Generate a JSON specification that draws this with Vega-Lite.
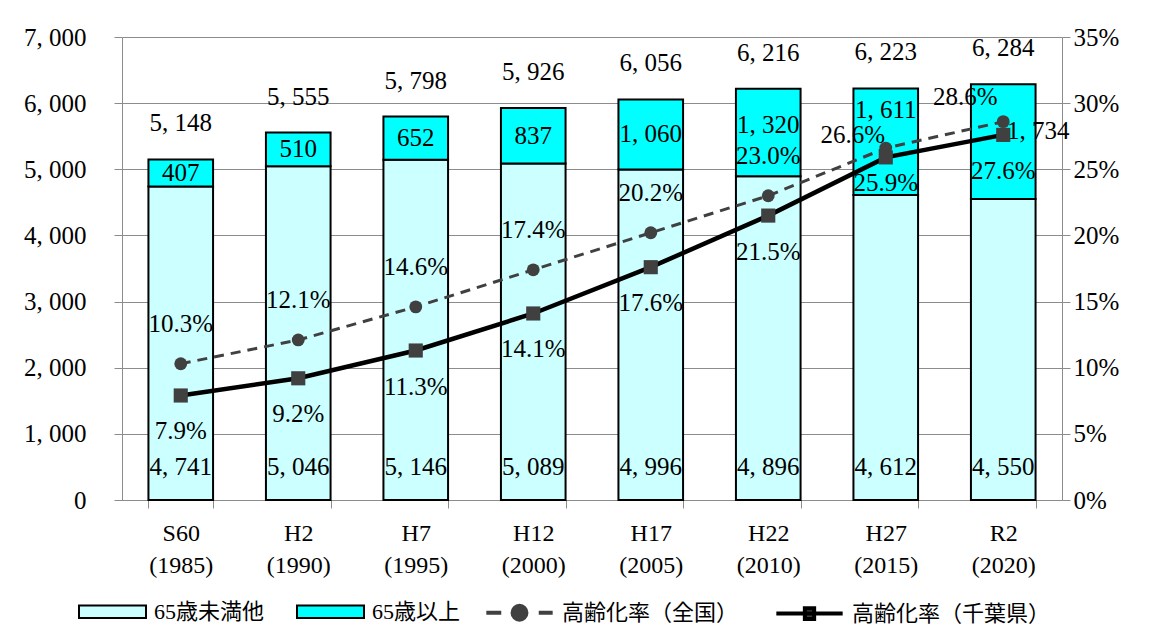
{
  "$schema": "https://vega.github.io/schema/vega-lite/v6.json",
  "width": 940,
  "height": 463,
  "autosize": "none",
  "padding": {"left": 122, "top": 37, "right": 97, "bottom": 144},
  "background": "white",
  "config": {
    "font": "Liberation Serif, Noto Sans CJK JP",
    "view": {"stroke": null},
    "text": {"font": "Liberation Serif, Noto Sans CJK JP", "fontSize": 25, "color": "black"},
    "axis": {
      "labelFont": "Liberation Serif, Noto Sans CJK JP",
      "labelColor": "black",
      "domainColor": "#8c8c8c",
      "tickColor": "#8c8c8c",
      "gridColor": "#8c8c8c",
      "title": null
    },
    "legend": {
      "labelFont": "Liberation Serif, Noto Sans CJK JP",
      "labelFontSize": 22,
      "labelColor": "black",
      "labelOffset": 7,
      "columnPadding": 13,
      "labelLimit": 400,
      "padding": 0,
      "title": null
    }
  },
  "datasets": {
    "pop": [
      {"cat": "S60 (1985)", "series": "65歳未満他", "value": 4741},
      {"cat": "S60 (1985)", "series": "65歳以上", "value": 407},
      {"cat": "H2 (1990)", "series": "65歳未満他", "value": 5046},
      {"cat": "H2 (1990)", "series": "65歳以上", "value": 510},
      {"cat": "H7 (1995)", "series": "65歳未満他", "value": 5146},
      {"cat": "H7 (1995)", "series": "65歳以上", "value": 652},
      {"cat": "H12 (2000)", "series": "65歳未満他", "value": 5089},
      {"cat": "H12 (2000)", "series": "65歳以上", "value": 837},
      {"cat": "H17 (2005)", "series": "65歳未満他", "value": 4996},
      {"cat": "H17 (2005)", "series": "65歳以上", "value": 1060},
      {"cat": "H22 (2010)", "series": "65歳未満他", "value": 4896},
      {"cat": "H22 (2010)", "series": "65歳以上", "value": 1320},
      {"cat": "H27 (2015)", "series": "65歳未満他", "value": 4612},
      {"cat": "H27 (2015)", "series": "65歳以上", "value": 1611},
      {"cat": "R2 (2020)", "series": "65歳未満他", "value": 4550},
      {"cat": "R2 (2020)", "series": "65歳以上", "value": 1734}
    ],
    "rate": [
      {"cat": "S60 (1985)", "total": 5148, "national": 10.3, "chiba": 7.9},
      {"cat": "H2 (1990)", "total": 5555, "national": 12.1, "chiba": 9.2},
      {"cat": "H7 (1995)", "total": 5798, "national": 14.6, "chiba": 11.3},
      {"cat": "H12 (2000)", "total": 5926, "national": 17.4, "chiba": 14.1},
      {"cat": "H17 (2005)", "total": 6056, "national": 20.2, "chiba": 17.6},
      {"cat": "H22 (2010)", "total": 6216, "national": 23.0, "chiba": 21.5},
      {"cat": "H27 (2015)", "total": 6223, "national": 26.6, "chiba": 25.9},
      {"cat": "R2 (2020)", "total": 6284, "national": 28.6, "chiba": 27.6}
    ]
  },
  "layer": [
    {
      "layer": [
        {
          "data": {"name": "pop"},
          "mark": {"type": "bar", "stroke": "black", "strokeWidth": 2},
          "encoding": {
            "x": {
              "field": "cat", "type": "nominal",
              "scale": {"domain": ["S60 (1985)", "H2 (1990)", "H7 (1995)", "H12 (2000)", "H17 (2005)", "H22 (2010)", "H27 (2015)", "R2 (2020)"], "paddingInner": 0.45, "paddingOuter": 0.225},
              "axis": {"labelExpr": "split(datum.label, ' ')", "labelAngle": 0, "labelFontSize": 24, "labelLineHeight": 32, "labelPadding": 13, "tickSize": 8, "tickBand": "extent", "domainColor": "#8c8c8c"}
            },
            "y": {
              "field": "value", "type": "quantitative", "stack": "zero",
              "scale": {"domain": [0, 7000]},
              "axis": {"values": [0, 1000, 2000, 3000, 4000, 5000, 6000, 7000], "labelExpr": "replace(format(datum.value, ','), ',', ', ')", "labelFontSize": 25, "tickSize": 8, "labelPadding": 28, "grid": true}
            },
            "fill": {
              "field": "series", "type": "nominal",
              "scale": {"domain": ["65歳未満他", "65歳以上"], "range": ["#CCFFFF", "#00FFFF"]},
              "legend": {
                "orient": "none", "legendX": -44, "legendY": 540,
                "direction": "horizontal",
                "symbolSize": 4489, "symbolType": "M-1,-0.19H1V0.19H-1Z",
                "symbolStrokeColor": "black", "symbolStrokeWidth": 2,
                "columnPadding": 28
              }
            },
            "order": {"field": "series", "sort": "descending"}
          }
        },
        {
          "data": {"name": "pop"},
          "mark": {
            "type": "text", "baseline": "middle",
            "text": {"expr": "datum.series === '65歳以上' ? replace(format(datum.value, ','), ',', ', ') : ''"},
            "dy": {"expr": "datum.cat === 'H22 (2010)' ? -8 : datum.cat === 'H27 (2015)' ? -32 : datum.cat === 'R2 (2020)' ? -11 : 0"},
            "dx": {"expr": "datum.cat === 'R2 (2020)' ? 35 : 0"}
          },
          "encoding": {
            "x": {"field": "cat", "type": "nominal"},
            "y": {"field": "value", "type": "quantitative", "stack": "zero", "bandPosition": 0.5},
            "detail": {"field": "series"},
            "order": {"field": "series", "sort": "descending"}
          }
        },
        {
          "data": {"name": "pop"},
          "transform": [{"filter": "datum.series === '65歳未満他'"}],
          "mark": {"type": "text", "baseline": "bottom", "dy": -20, "text": {"expr": "replace(format(datum.value, ','), ',', ', ')"}},
          "encoding": {
            "x": {"field": "cat", "type": "nominal"},
            "y": {"datum": 0, "type": "quantitative"}
          }
        },
        {
          "data": {"name": "rate"},
          "mark": {"type": "text", "baseline": "middle", "dy": -36, "text": {"expr": "replace(format(datum.total, ','), ',', ', ')"}},
          "encoding": {
            "x": {"field": "cat", "type": "nominal"},
            "y": {"field": "total", "type": "quantitative"}
          }
        }
      ]
    },
    {
      "data": {"name": "rate"},
      "layer": [
        {
          "mark": {"type": "line", "strokeDash": [10, 7], "strokeWidth": 3},
          "encoding": {
            "x": {"field": "cat", "type": "nominal"},
            "y": {
              "field": "national", "type": "quantitative",
              "scale": {"domain": [0, 35]},
              "axis": {"orient": "right", "values": [0, 5, 10, 15, 20, 25, 30, 35], "labelExpr": "datum.value + '%'", "labelFontSize": 25, "tickSize": 8, "labelPadding": 3, "grid": false}
            },
            "stroke": {
              "datum": "高齢化率（全国）", "type": "nominal",
              "scale": {"domain": ["高齢化率（全国）", "高齢化率（千葉県）"], "range": ["#404040", "#000000"]},
              "legend": {
                "orient": "none", "legendX": 362, "legendY": 540,
                "direction": "horizontal",
                "symbolSize": 4400,
                "symbolType": {"expr": "datum.value === '高齢化率（全国）' ? 'M-1,0H-0.55M0.58,0H1M-0.21,0A0.21,0.21 0 1,1 0.21,0A0.21,0.21 0 1,1 -0.21,0Z' : 'M-1,0H1M-0.14,-0.16H0.14V0.16H-0.14Z'"},
                "symbolFillColor": "#404040",
                "symbolStrokeWidth": 4,
                "symbolDash": [],
                "columnPadding": 29
              }
            }
          }
        },
        {
          "mark": {"type": "line", "strokeWidth": 4.5},
          "encoding": {
            "x": {"field": "cat", "type": "nominal"},
            "y": {"field": "chiba", "type": "quantitative"},
            "stroke": {"datum": "高齢化率（千葉県）", "type": "nominal"}
          }
        },
        {
          "mark": {"type": "point", "shape": "circle", "filled": true, "size": 165, "color": "#404040", "opacity": 1},
          "encoding": {
            "x": {"field": "cat", "type": "nominal"},
            "y": {"field": "national", "type": "quantitative"}
          }
        },
        {
          "mark": {"type": "point", "shape": "square", "filled": true, "size": 200, "color": "#404040", "opacity": 1},
          "encoding": {
            "x": {"field": "cat", "type": "nominal"},
            "y": {"field": "chiba", "type": "quantitative"}
          }
        },
        {
          "mark": {
            "type": "text", "baseline": "middle",
            "text": {"expr": "format(datum.national, '.1f') + '%'"},
            "dy": {"expr": "datum.cat === 'H27 (2015)' ? -13 : datum.cat === 'R2 (2020)' ? -25 : -40"},
            "dx": {"expr": "datum.cat === 'H27 (2015)' ? -33 : datum.cat === 'R2 (2020)' ? -38 : 0"}
          },
          "encoding": {
            "x": {"field": "cat", "type": "nominal"},
            "y": {"field": "national", "type": "quantitative"}
          }
        },
        {
          "mark": {
            "type": "text", "baseline": "middle",
            "text": {"expr": "format(datum.chiba, '.1f') + '%'"},
            "dy": {"expr": "datum.cat === 'H27 (2015)' ? 26 : 36"}
          },
          "encoding": {
            "x": {"field": "cat", "type": "nominal"},
            "y": {"field": "chiba", "type": "quantitative"}
          }
        }
      ]
    }
  ],
  "resolve": {"scale": {"y": "independent"}}
}
